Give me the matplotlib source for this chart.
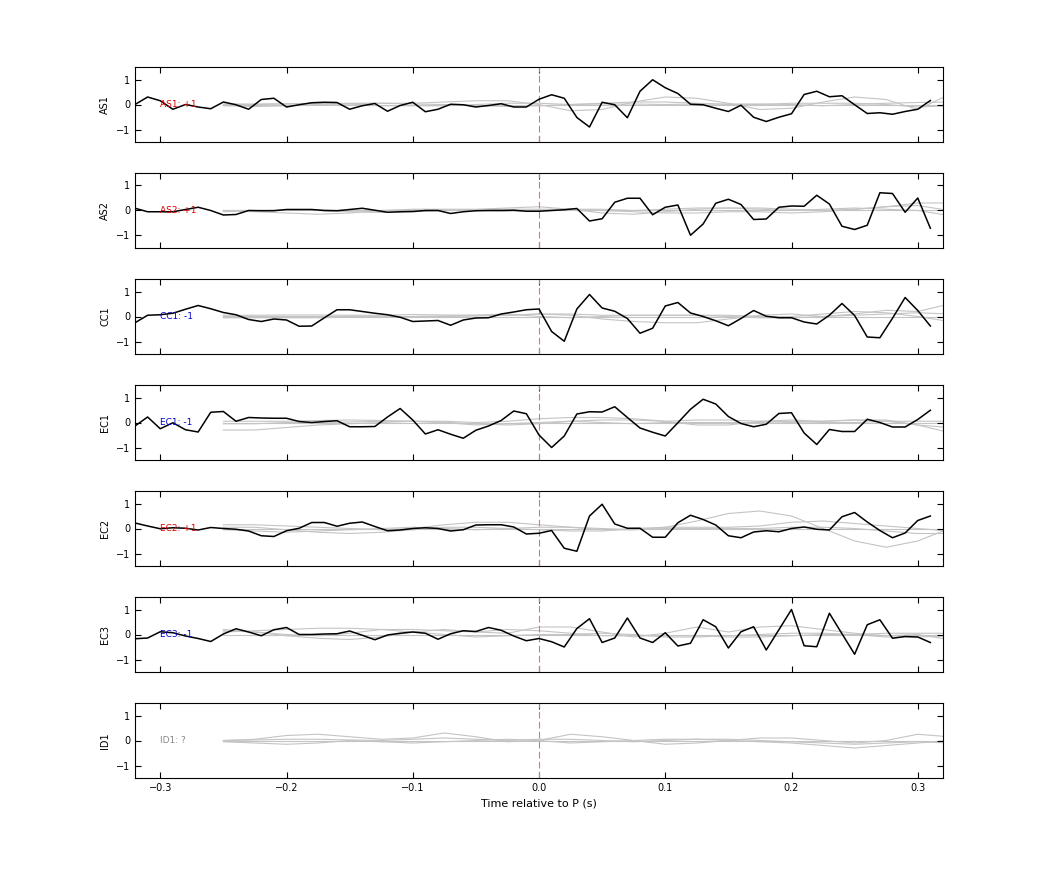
import numpy as np
import matplotlib
matplotlib.use("Agg")
import matplotlib.pyplot as plt

stations = ["AS1", "AS2", "CC1", "EC1", "EC2", "EC3", "ID1"]
polarity = ["+1", "+1", "-1", "-1", "+1", "-1", "?"]

t_black = np.round(np.arange(-0.32, 0.315, 0.01), 3)
t_grey = np.round(np.arange(-0.25, 0.33, 0.025), 3)

AS1 = [0, 0.3, 0.15, -0.19, 0, -0.1, -0.17, 0.1, -0.01, -0.19, 0.2, 0.25, -0.1, -0.01, 0.07, 0.09, 0.08,
       -0.19, -0.05, 0.04, -0.27, -0.04, 0.09, -0.29, -0.19, 0.01, -0.01, -0.1, -0.04, 0.03, -0.1, -0.1, 0.21,
       0.39, 0.25, -0.52, -0.9, 0.09, -0.01, -0.53, 0.53, 0.99, 0.67, 0.44, 0.01, -0.01, -0.15, -0.28, -0.03,
       -0.51, -0.68, -0.51, -0.37, 0.4, 0.53, 0.31, 0.35, -0.01, -0.36, -0.33, -0.39, -0.28, -0.19, 0.16]
AS2 = [0.09, -0.05, -0.05, -0.05, 0.04, 0.13, 0, -0.18, -0.16, 0, -0.01, -0.01, 0.04, 0.04, 0.04, 0, -0.01,
       0.04, 0.09, 0.01, -0.07, -0.05, -0.04, 0, 0, -0.12, -0.05, -0.01, 0, 0, 0.01, -0.03, -0.03,
       0.0, 0.03, 0.08, -0.42, -0.33, 0.33, 0.49, 0.49, -0.17, 0.13, 0.22, -0.99, -0.54, 0.29, 0.45, 0.24,
       -0.36, -0.34, 0.13, 0.18, 0.17, 0.61, 0.26, -0.63, -0.76, -0.59, 0.71, 0.68, -0.07, 0.5, -0.71]
CC1 = [-0.25, 0.05, 0.07, 0.13, 0.29, 0.44, 0.31, 0.16, 0.07, -0.12, -0.2, -0.1, -0.14, -0.39, -0.38, -0.05,
       0.27, 0.27, 0.2, 0.13, 0.07, -0.03, -0.2, -0.18, -0.16, -0.35, -0.14, -0.06, -0.05, 0.1, 0.18, 0.27, 0.3,
       -0.6, -0.99, 0.3, 0.88, 0.34, 0.21, -0.08, -0.67, -0.47, 0.42, 0.56, 0.14, 0, -0.17, -0.37, -0.08,
       0.24, 0.01, -0.05, -0.05, -0.22, -0.3, 0.05, 0.52, 0.04, -0.82, -0.85, -0.07, 0.76, 0.24, -0.38]
EC1 = [-0.14, 0.22, -0.25, -0.01, -0.29, -0.38, 0.41, 0.44, 0.05, 0.2, 0.18, 0.17, 0.17, 0.04, 0, 0.04, 0.07,
       -0.17, -0.17, -0.16, 0.22, 0.56, 0.1, -0.46, -0.29, -0.47, -0.63, -0.31, -0.14, 0.08, 0.46, 0.35, -0.5,
       -1.0, -0.54, 0.34, 0.43, 0.42, 0.63, 0.2, -0.22, -0.39, -0.54, -0.01, 0.53, 0.93, 0.74, 0.24, -0.04,
       -0.17, -0.07, 0.36, 0.39, -0.42, -0.88, -0.28, -0.36, -0.36, 0.13, 0, -0.18, -0.18, 0.12, 0.49]
EC2 = [0.22, 0.1, -0.01, 0.03, 0.01, -0.06, 0.04, 0, -0.03, -0.1, -0.29, -0.32, -0.09, 0.01, 0.24, 0.24, 0.09,
       0.21, 0.26, 0.08, -0.09, -0.06, 0, 0.03, 0, -0.1, -0.05, 0.14, 0.15, 0.15, 0.06, -0.22, -0.19,
       -0.08, -0.79, -0.91, 0.5, 0.97, 0.18, 0.01, 0.01, -0.35, -0.35, 0.23, 0.53, 0.36, 0.14, -0.29, -0.37,
       -0.14, -0.09, -0.13, 0, 0.06, -0.03, -0.06, 0.47, 0.64, 0.26, -0.08, -0.37, -0.18, 0.32, 0.5]
EC3 = [-0.17, -0.14, 0.11, 0.07, -0.06, -0.16, -0.28, 0.02, 0.23, 0.1, -0.05, 0.19, 0.28, 0, 0, 0.02, 0.03,
       0.14, -0.03, -0.21, -0.02, 0.05, 0.1, 0.05, -0.19, 0.03, 0.15, 0.12, 0.28, 0.17, -0.06, -0.25, -0.16,
       -0.29, -0.5, 0.24, 0.63, -0.32, -0.14, 0.66, -0.14, -0.32, 0.07, -0.46, -0.35, 0.59, 0.31, -0.54, 0.11,
       0.31, -0.62, 0.19, 1.0, -0.45, -0.49, 0.85, 0.03, -0.79, 0.39, 0.59, -0.15, -0.08, -0.1, -0.32]
black_traces = [AS1, AS2, CC1, EC1, EC2, EC3, None]

# grey traces sampled every 0.025 s from -0.25 s
grey_AS1 = [
    [0, 0, 0.02, 0.03, 0.05, 0.05, 0.05, 0.1, 0.15, 0.15, 0.0, -0.25, -0.2, 0.1, 0.3, 0.25, 0.05, -0.2, -0.15, 0.1, 0.3, 0.2, -0.2, 0.4],
    [-0.05, -0.08, -0.05, 0.0, 0.02, -0.05, -0.05, -0.05, 0.0, 0.05, 0.05, 0.0, 0.05, 0.1, 0.1, 0.05, 0.0, 0.0, 0.05, 0.05, 0.05, 0.0, -0.1, -0.05],
    [0.02, 0.02, 0.03, 0.05, 0.03, 0.05, 0.02, 0.0, -0.05, -0.08, -0.05, 0.0, 0.02, 0.02, 0.0, 0.02, 0.02, 0.02, 0.0, -0.05, 0.0, 0.05, 0.08, 0.1],
]
grey_AS2 = [
    [0, -0.05, -0.1, -0.15, -0.1, 0.0, 0.05, 0.05, 0.05, 0.1, 0.15, 0.05, -0.1, -0.15, -0.05, 0.05, 0.1, 0.1, 0.05, 0.0, 0.05, 0.15, 0.3, 0.3],
    [-0.05, 0.0, 0.02, 0.0, -0.05, -0.08, -0.05, 0.0, 0.02, 0.05, 0.05, 0.05, 0.0, -0.05, -0.1, -0.1, -0.05, -0.05, -0.1, -0.05, 0.05, 0.15, 0.2, 0.0],
    [0.0, 0.0, 0.02, 0.02, 0.0, 0.0, 0.0, 0.02, 0.0, -0.02, 0.0, 0.05, 0.05, 0.0, 0.05, 0.1, 0.1, 0.05, 0.0, 0.05, 0.1, 0.05, 0.0, -0.2],
]
grey_CC1 = [
    [0.05, 0.05, 0.06, 0.06, 0.05, 0.05, 0.08, 0.06, 0.05, 0.05, 0.1, 0.05, -0.1, -0.2, -0.25, -0.25, -0.1, 0.05, 0.1, 0.0, 0.1, 0.25, 0.2, 0.5],
    [-0.05, -0.05, -0.05, -0.05, -0.02, 0.0, 0.0, 0.0, 0.02, 0.05, 0.1, 0.1, 0.05, 0.05, 0.05, 0.05, 0.05, 0.0, 0.0, 0.1, 0.2, 0.15, 0.0, -0.2],
    [0.0, 0.0, 0.0, 0.0, 0.0, 0.0, 0.0, 0.02, 0.05, 0.1, 0.0, -0.05, 0.0, 0.05, 0.05, 0.05, 0.0, -0.05, -0.05, 0.0, 0.05, 0.1, 0.15, 0.1],
]
grey_EC1 = [
    [-0.3, -0.3, -0.2, -0.1, -0.05, 0.0, 0.05, 0.05, 0.0, 0.05, 0.15, 0.2, 0.2, 0.15, 0.05, -0.1, -0.1, 0.05, 0.1, 0.05, 0.1, 0.1, -0.1, -0.4],
    [0.05, 0.05, 0.05, 0.08, 0.1, 0.08, 0.05, 0.0, -0.05, -0.1, -0.05, 0.05, 0.1, 0.1, 0.05, 0.1, 0.1, 0.05, 0.0, 0.05, 0.1, 0.05, -0.1, -0.2],
    [-0.05, -0.05, 0.0, 0.0, 0.02, 0.05, 0.05, 0.0, -0.1, -0.05, 0.0, 0.05, 0.0, -0.05, 0.0, 0.0, 0.0, 0.0, 0.05, 0.0, 0.0, 0.05, 0.05, 0.05],
]
grey_EC2 = [
    [0.15, 0.15, 0.1, 0.05, 0.0, -0.05, 0.0, 0.15, 0.25, 0.25, 0.15, 0.05, -0.05, -0.05, 0.05, 0.3, 0.6, 0.7, 0.5, 0.0, -0.5, -0.75, -0.5, 0.0],
    [0.05, 0.05, -0.05, -0.15, -0.2, -0.15, -0.05, 0.05, 0.05, 0.0, -0.05, -0.1, -0.1, 0.0, 0.05, 0.05, 0.05, 0.1, 0.25, 0.3, 0.2, 0.1, 0.0, -0.1],
    [-0.05, -0.1, -0.15, -0.1, -0.05, 0.0, 0.05, 0.0, -0.05, 0.0, 0.05, 0.05, 0.0, -0.05, 0.0, 0.0, 0.0, 0.0, 0.05, 0.05, 0.0, -0.1, -0.2, -0.2],
]
grey_EC3 = [
    [0.15, 0.1, -0.05, -0.15, -0.2, -0.1, 0.1, 0.2, 0.1, 0.05, 0.3, 0.3, 0.1, -0.1, 0.05, 0.3, 0.1, 0.3, 0.35, 0.2, 0.05, -0.05, 0.0, -0.2],
    [0.1, 0.15, 0.2, 0.25, 0.25, 0.2, 0.1, 0.0, -0.1, -0.05, 0.0, 0.0, 0.05, 0.0, -0.1, -0.1, -0.05, 0.0, 0.05, 0.05, 0.0, -0.1, -0.1, -0.05],
    [0.2, 0.1, 0.0, -0.05, 0.05, 0.2, 0.2, 0.15, 0.1, 0.2, 0.15, 0.05, -0.05, -0.05, -0.05, -0.05, -0.1, -0.1, -0.05, 0.0, 0.0, 0.05, 0.05, 0.05],
]
grey_ID1 = [
    [0.0, 0.05, 0.2, 0.25, 0.15, 0.05, 0.1, 0.3, 0.15, -0.05, 0.0, 0.25, 0.15, 0.0, -0.15, -0.1, 0.0, 0.1, 0.1, 0.0, -0.1, 0.0, 0.25, 0.15],
    [-0.05, -0.1, -0.15, -0.1, 0.0, -0.05, -0.1, -0.05, 0.0, 0.05, 0.0, -0.1, -0.05, 0.0, 0.05, 0.05, 0.0, -0.05, -0.1, -0.2, -0.3, -0.2, -0.1, 0.0],
    [0.0, 0.02, 0.05, 0.05, 0.02, 0.0, 0.05, 0.1, 0.05, 0.0, 0.05, 0.05, 0.0, -0.05, 0.0, 0.05, 0.05, 0.0, -0.05, -0.1, -0.15, -0.1, -0.05, -0.1],
]
grey_traces = [grey_AS1, grey_AS2, grey_CC1, grey_EC1, grey_EC2, grey_EC3, grey_ID1]

pol_color = {"+1": "#dd0000", "-1": "#0000cc", "?": "#888888"}

fig = plt.figure(figsize=(10.42, 8.75), dpi=100)
W, H = 1042, 875
left, right = 135, 943
tops = [67, 173, 279, 385, 491, 597, 703]
ph = 75
for i, st in enumerate(stations):
    ax = fig.add_axes([left / W, 1 - (tops[i] + ph) / H, (right - left) / W, ph / H])
    for g in grey_traces[i]:
        ax.plot(t_grey, g, color="#c4c4c4", lw=0.8, zorder=1)
    ax.axhline(0, xmin=(-0.25 + 0.32) / 0.64, color="#c4c4c4", lw=0.8, zorder=1)
    if black_traces[i] is not None:
        ax.plot(t_black, black_traces[i], color="black", lw=1.1, zorder=3)
    ax.axvline(0, color="#e87070", lw=0.8, dashes=(6, 3), zorder=2)
    ax.text(-0.3, 0, f"{st}: {polarity[i]}", color=pol_color[polarity[i]], fontsize=6.5,
            va="center", ha="left", zorder=4)
    ax.set_xlim(-0.32, 0.32)
    ax.set_ylim(-1.5, 1.5)
    ax.set_yticks([-1, 0, 1])
    ax.set_xticks([-0.3, -0.2, -0.1, 0, 0.1, 0.2, 0.3])
    ax.set_ylabel(st, fontsize=7)
    ax.tick_params(direction="in", top=True, right=True, labelsize=7, length=4, width=0.8)
    for s in ax.spines.values():
        s.set_linewidth(0.8)
    if i < len(stations) - 1:
        ax.set_xticklabels([])
    else:
        ax.set_xlabel("Time relative to P (s)", fontsize=8)

fig.savefig("out.png", dpi=100)
